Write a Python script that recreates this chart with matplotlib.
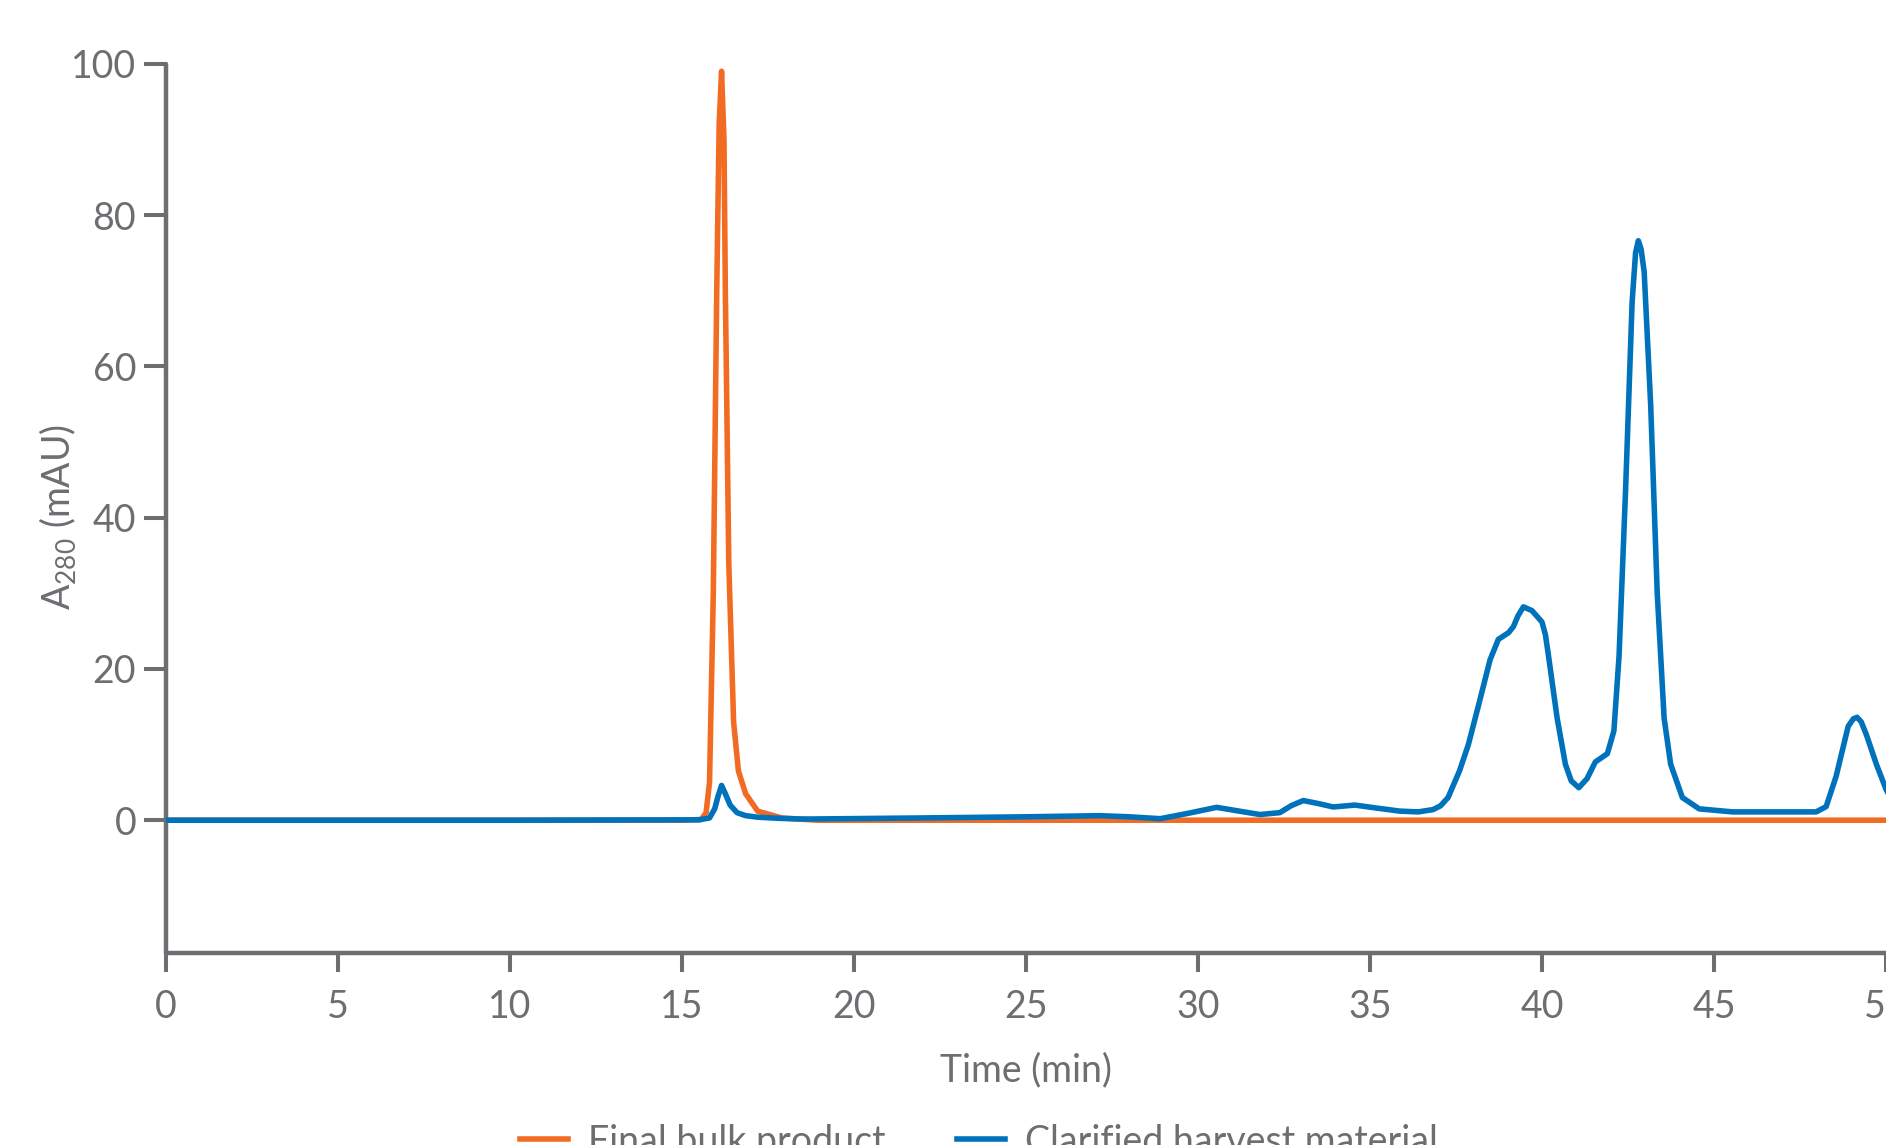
import matplotlib
matplotlib.use("Agg")
import matplotlib.pyplot as plt

# Chromatogram traces
t_final = [0, 15.0, 15.56, 15.7, 15.8, 15.91, 16.01, 16.08, 16.15, 16.22, 16.26, 16.36,
           16.5, 16.64, 16.85, 17.2, 17.9, 18.95, 52]
a_final = [0, 0, 0.1, 1, 5, 30, 70, 92, 99, 90, 70, 34,
           13, 6.5, 3.5, 1.2, 0.3, 0, 0]

t_harvest = [0, 10, 15.5, 15.8, 15.95, 16.05, 16.15, 16.25, 16.4, 16.6, 16.85, 17.2, 17.8,
             18.5, 22, 25, 27.15, 28.0, 28.9, 29.7, 30.54, 31.2, 31.8, 32.38, 32.7, 33.06,
             33.5, 33.93, 34.56, 35.2, 35.87, 36.4, 36.83, 37.05, 37.27, 37.6, 37.86, 38.15,
             38.49, 38.73, 39.03, 39.17, 39.3, 39.46, 39.71, 40.0, 40.1, 40.19, 40.44, 40.68,
             40.85, 41.07, 41.31, 41.55, 41.9, 42.09, 42.24, 42.43, 42.62, 42.72, 42.8, 42.88,
             42.97, 43.16, 43.35, 43.55, 43.74, 44.08, 44.57, 45.54, 47.97, 48.26, 48.55,
             48.9, 49.05, 49.16, 49.28, 49.43, 49.72, 50.0, 50.3]
a_harvest = [0, 0, 0.05, 0.3, 1.5, 3.2, 4.6, 3.6, 2.0, 1.0, 0.6, 0.4, 0.25,
             0.15, 0.3, 0.45, 0.6, 0.45, 0.2, 0.9, 1.7, 1.2, 0.75, 1.0, 1.9, 2.6,
             2.2, 1.75, 2.0, 1.6, 1.2, 1.1, 1.4, 1.9, 3.0, 6.5, 10.0, 15.1,
             21.2, 23.9, 24.8, 25.6, 27.0, 28.2, 27.7, 26.2, 24.5, 21.7, 13.5, 7.4,
             5.2, 4.3, 5.5, 7.7, 8.8, 11.8, 21.7, 43.7, 68.5, 75.0, 76.6, 75.5,
             72.5, 54.8, 30.0, 13.5, 7.4, 3.0, 1.5, 1.1, 1.1, 1.8, 5.8,
             12.4, 13.4, 13.6, 13.0, 11.3, 7.4, 4.1, 1.5]

x_ticks = [0, 5, 10, 15, 20, 25, 30, 35, 40, 45, 50]
y_ticks = [0, 20, 40, 60, 80, 100]

gray = "#6d6e71"
orange = "#f26b22"
blue = "#0072bc"

plt.rcParams["font.family"] = ["Lato", "DejaVu Sans"]
plt.rcParams["font.size"] = 27

fig = plt.figure(figsize=(18.86, 11.45), dpi=100)
ax = fig.add_axes([166 / 1886, 192.4 / 1145, 1788.8 / 1886, 888.9 / 1145])

l1, = ax.plot(t_final, a_final, color=orange, lw=4, solid_joinstyle="round", zorder=2)
l2, = ax.plot(t_harvest, a_harvest, color=blue, lw=4, solid_joinstyle="round", zorder=3)

ax.set_xlim(0, 52)
ax.set_ylim(-17.5, 100)
ax.set_xticks(x_ticks)
ax.set_yticks(y_ticks)

for side in ["top", "right"]:
    ax.spines[side].set_visible(False)
for side in ["left", "bottom"]:
    ax.spines[side].set_color(gray)
    ax.spines[side].set_linewidth(3.2)
    ax.spines[side].set_capstyle("round")

ax.tick_params(axis="x", direction="out", length=14, width=2.9, color=gray,
               labelcolor=gray, pad=12, labelsize=27)
ax.tick_params(axis="y", direction="out", length=15.5, width=2.9, color=gray,
               labelcolor=gray, pad=6, labelsize=27)

ax.set_xlabel("Time (min)", color=gray, fontsize=27)
ax.xaxis.set_label_coords(25 / 52, -0.112)
ax.set_ylabel(r"A$_{\mathregular{280}}$ (mAU)", color=gray, fontsize=27)
ax.yaxis.set_label_coords(-0.0486, 0.49)

fig.legend([l1, l2], ["Final bulk product", "Clarified harvest material"],
           loc="center", bbox_to_anchor=(0.519, 0.003), ncol=2, frameon=False,
           handlelength=1.28, handletextpad=0.53, columnspacing=1.9,
           labelcolor=gray, fontsize=27)

fig.savefig("out.png", dpi=100)
